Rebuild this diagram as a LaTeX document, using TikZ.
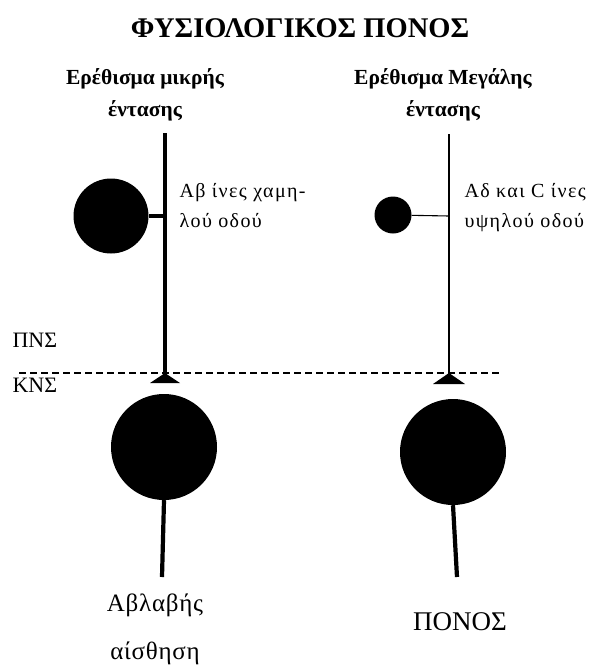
\documentclass[tikz,border=0pt]{standalone}
\usepackage{fontspec}
\setmainfont{Liberation Serif}
\newfontfamily\spaced[LetterSpace=7]{Liberation Serif}
\newfontfamily\loose[LetterSpace=3]{Liberation Serif}
\usetikzlibrary{positioning}

\tikzset{
  soma/.style={circle, fill=black, inner sep=0pt, minimum size=#1},
  label text/.style={font=\spaced\fontsize{20}{30}\selectfont, align=left, anchor=west},
  head text/.style={font=\bfseries\fontsize{21.5}{32}\selectfont, align=center},
  thick fibre/.style={line width=4.5pt},
  thin fibre/.style={line width=1.1pt},
  stem/.style={line width=4.2pt}
}

\begin{document}
\begin{tikzpicture}[x=1pt, y=-1pt]
\useasboundingbox (0,0) rectangle (598,672);

% title and the two stimuli
\node[font=\bfseries\fontsize{28.5}{32}\selectfont] (title) at (300,28) {ΦΥΣΙΟΛΟΓΙΚΟΣ ΠΟΝΟΣ};
\node[head text] (low) at (145,95) {Ερέθισμα μικρής\\έντασης};
\node[head text] (high) at (443,95) {Ερέθισμα Μεγάλης\\έντασης};

% peripheral neurons
\coordinate (topA) at (165,133);
\coordinate (topB) at (449,134);
\coordinate (synA) at (165,373);
\coordinate (synB) at (449,373);
\coordinate (joinA) at (165,216);
\coordinate (joinB) at (449,216);
\node[soma=75pt] (cellA) at (111,216) {};
\node[soma=37pt] (cellB) at (393,215) {};

\draw[thick fibre] (topA) -- (synA);
\draw[thin fibre] (topB) -- (synB);
\draw[line width=4pt] (cellA) -- (joinA);
\draw[thin fibre] (cellB) -- (joinB);

\node[label text] (fibreA) at (176,206) {Αβ ίνες χαμη-\\λού οδού};
\node[label text] (fibreB) at (461,208) {Αδ και C ίνες\\υψηλού οδού};

% boundary between the two systems
\node[font=\fontsize{22}{24}\selectfont, anchor=west] (pns) at (9,340) {ΠΝΣ};
\node[font=\fontsize{22}{24}\selectfont, anchor=west] (cns) at (9,385) {ΚΝΣ};
\coordinate (lineL) at (19,373);
\coordinate (lineR) at (502,373);
\draw[line width=2pt, dash pattern=on 7pt off 4pt] (lineL) -- (lineR);

% synapses
\fill (synA) -- ++(-15,10) -- ++(30,0) -- cycle;
\fill (synB) -- ++(-16,11) -- ++(32,0) -- cycle;

% central neurons
\node[soma=106pt] (centA) at (164,447) {};
\node[soma=106pt] (centB) at (453,452) {};
\coordinate (endA) at (162,577);
\coordinate (endB) at (457,577);
\draw[stem] (centA.south) -- (endA);
\draw[stem] (centB.south) -- (endB);

\node[font=\loose\fontsize{25}{48}\selectfont, align=center] (touch) at (155,629) {Αβλαβής\\αίσθηση};
\node[font=\fontsize{27}{30}\selectfont] (pain) at (460,622) {ΠΟΝΟΣ};
\end{tikzpicture}
\end{document}
